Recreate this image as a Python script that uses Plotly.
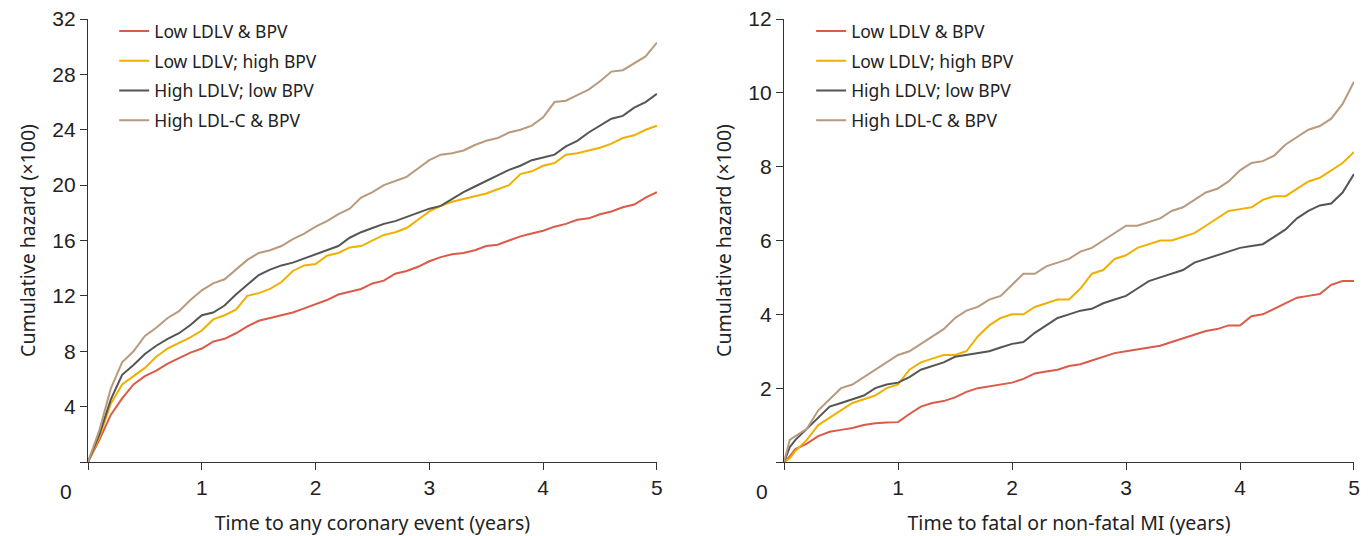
import plotly.graph_objects as go
from plotly.subplots import make_subplots

# ---------------- data ----------------
years = [0.0, 0.05, 0.1, 0.2, 0.3, 0.4, 0.5, 0.6, 0.7, 0.8, 0.9, 1.0,
         1.1, 1.2, 1.3, 1.4, 1.5, 1.6, 1.7, 1.8, 1.9, 2.0,
         2.1, 2.2, 2.3, 2.4, 2.5, 2.6, 2.7, 2.8, 2.9, 3.0,
         3.1, 3.2, 3.3, 3.4, 3.5, 3.6, 3.7, 3.8, 3.9, 4.0,
         4.1, 4.2, 4.3, 4.4, 4.5, 4.6, 4.7, 4.8, 4.9, 5.0]

series_names = ["Low LDLV & BPV", "Low LDLV; high BPV",
                "High LDLV; low BPV", "High LDL-C & BPV"]

# Left panel: any coronary event
coronary_low_low = [0, 0.8, 1.6, 3.4, 4.6, 5.6, 6.2, 6.6, 7.1, 7.5, 7.9, 8.2,
                    8.7, 8.9, 9.3, 9.8, 10.2, 10.4, 10.6, 10.8, 11.1, 11.4,
                    11.7, 12.1, 12.3, 12.5, 12.9, 13.1, 13.6, 13.8, 14.1, 14.5,
                    14.8, 15.0, 15.1, 15.3, 15.6, 15.7, 16.0, 16.3, 16.5, 16.7,
                    17.0, 17.2, 17.5, 17.6, 17.9, 18.1, 18.4, 18.6, 19.1, 19.5]
coronary_low_high = [0, 0.9, 1.8, 4.2, 5.6, 6.2, 6.8, 7.6, 8.2, 8.6, 9.0, 9.5,
                     10.3, 10.6, 11.0, 12.0, 12.2, 12.5, 13.0, 13.8, 14.2, 14.3,
                     14.9, 15.1, 15.5, 15.6, 16.0, 16.4, 16.6, 16.9, 17.5, 18.1,
                     18.5, 18.8, 19.0, 19.2, 19.4, 19.7, 20.0, 20.8, 21.0, 21.4,
                     21.6, 22.2, 22.3, 22.5, 22.7, 23.0, 23.4, 23.6, 24.0, 24.3]
coronary_high_low = [0, 1.0, 2.0, 4.5, 6.3, 7.0, 7.8, 8.4, 8.9, 9.3, 9.9, 10.6,
                     10.8, 11.3, 12.1, 12.8, 13.5, 13.9, 14.2, 14.4, 14.7, 15.0,
                     15.3, 15.6, 16.2, 16.6, 16.9, 17.2, 17.4, 17.7, 18.0, 18.3,
                     18.5, 19.0, 19.5, 19.9, 20.3, 20.7, 21.1, 21.4, 21.8, 22.0,
                     22.2, 22.8, 23.2, 23.8, 24.3, 24.8, 25.0, 25.6, 26.0, 26.6]
coronary_high_high = [0, 1.2, 2.3, 5.3, 7.2, 8.0, 9.1, 9.7, 10.4, 10.9, 11.7, 12.4,
                      12.9, 13.2, 13.9, 14.6, 15.1, 15.3, 15.6, 16.1, 16.5, 17.0,
                      17.4, 17.9, 18.3, 19.1, 19.5, 20.0, 20.3, 20.6, 21.2, 21.8,
                      22.2, 22.3, 22.5, 22.9, 23.2, 23.4, 23.8, 24.0, 24.3, 24.9,
                      26.0, 26.1, 26.5, 26.9, 27.5, 28.2, 28.3, 28.8, 29.3, 30.3]

# Right panel: fatal or non-fatal MI
mi_low_low = [0, 0.15, 0.35, 0.5, 0.7, 0.82, 0.87, 0.92, 1.0, 1.05, 1.07, 1.08,
              1.3, 1.5, 1.6, 1.65, 1.75, 1.9, 2.0, 2.05, 2.1, 2.15,
              2.25, 2.4, 2.45, 2.5, 2.6, 2.65, 2.75, 2.85, 2.95, 3.0,
              3.05, 3.1, 3.15, 3.25, 3.35, 3.45, 3.55, 3.6, 3.7, 3.7,
              3.95, 4.0, 4.15, 4.3, 4.45, 4.5, 4.55, 4.8, 4.9, 4.9]
mi_low_high = [0, 0.1, 0.3, 0.6, 1.0, 1.2, 1.4, 1.6, 1.7, 1.8, 2.0, 2.1,
               2.5, 2.7, 2.8, 2.9, 2.9, 3.0, 3.4, 3.7, 3.9, 4.0,
               4.0, 4.2, 4.3, 4.4, 4.4, 4.7, 5.1, 5.2, 5.5, 5.6,
               5.8, 5.9, 6.0, 6.0, 6.1, 6.2, 6.4, 6.6, 6.8, 6.85,
               6.9, 7.1, 7.2, 7.2, 7.4, 7.6, 7.7, 7.9, 8.1, 8.4]
mi_high_low = [0, 0.4, 0.6, 0.9, 1.2, 1.5, 1.6, 1.7, 1.8, 2.0, 2.1, 2.15,
               2.3, 2.5, 2.6, 2.7, 2.85, 2.9, 2.95, 3.0, 3.1, 3.2,
               3.25, 3.5, 3.7, 3.9, 4.0, 4.1, 4.15, 4.3, 4.4, 4.5,
               4.7, 4.9, 5.0, 5.1, 5.2, 5.4, 5.5, 5.6, 5.7, 5.8,
               5.85, 5.9, 6.1, 6.3, 6.6, 6.8, 6.95, 7.0, 7.3, 7.8]
mi_high_high = [0, 0.6, 0.7, 0.9, 1.4, 1.7, 2.0, 2.1, 2.3, 2.5, 2.7, 2.9,
                3.0, 3.2, 3.4, 3.6, 3.9, 4.1, 4.2, 4.4, 4.5, 4.8,
                5.1, 5.1, 5.3, 5.4, 5.5, 5.7, 5.8, 6.0, 6.2, 6.4,
                6.4, 6.5, 6.6, 6.8, 6.9, 7.1, 7.3, 7.4, 7.6, 7.9,
                8.1, 8.15, 8.3, 8.6, 8.8, 9.0, 9.1, 9.3, 9.7, 10.3]

x_ticks = [0, 1, 2, 3, 4, 5]
x_ticktext = ["", "1", "2", "3", "4", "5"]
left_y_ticks = [0, 4, 8, 12, 16, 20, 24, 28, 32]
left_y_ticktext = ["", "4", "8", "12", "16", "20", "24", "28", "32"]
right_y_ticks = [0, 2, 4, 6, 8, 10, 12]
right_y_ticktext = ["", "2", "4", "6", "8", "10", "12"]

colors = ["#dc5a48", "#f0b000", "#555555", "#b89a7e"]

left_series = [coronary_low_low, coronary_low_high, coronary_high_low, coronary_high_high]
right_series = [mi_low_low, mi_low_high, mi_high_low, mi_high_high]

# ---------------- figure ----------------
fig = make_subplots(rows=1, cols=2, horizontal_spacing=0.1)

for i, (name, vals) in enumerate(zip(series_names, left_series)):
    fig.add_trace(go.Scatter(x=years, y=vals, mode="lines", name=name,
                             line=dict(color=colors[i], width=2),
                             legend="legend", legendgroup="l%d" % i),
                  row=1, col=1)
for i, (name, vals) in enumerate(zip(series_names, right_series)):
    fig.add_trace(go.Scatter(x=years, y=vals, mode="lines", name=name,
                             line=dict(color=colors[i], width=2),
                             legend="legend2", legendgroup="r%d" % i),
                  row=1, col=2)

tick_font = dict(family="Liberation Sans, Arial, sans-serif", size=21, color="#222222")
axis_common = dict(showline=True, linecolor="#333333", linewidth=1.3,
                   ticks="outside", ticklen=7, tickcolor="#333333", tickwidth=1.3,
                   showgrid=False, zeroline=False, automargin=False,
                   ticklabeloverflow="allow",
                   tickfont=tick_font,
                   title_font=dict(family="Noto Sans, sans-serif", size=19.5, color="#222222"))

fig.update_xaxes(**axis_common, range=[0, 5], tickvals=x_ticks, ticktext=x_ticktext)
fig.update_xaxes(domain=[0, 0.4494], row=1, col=1,
                 title=dict(text="Time to any coronary event (years)", standoff=18))
fig.update_xaxes(domain=[0.5498, 1], row=1, col=2,
                 title=dict(text="Time to fatal or non-fatal MI (years)", standoff=18))
fig.update_yaxes(**axis_common)
fig.update_yaxes(range=[0, 32], tickvals=left_y_ticks, ticktext=left_y_ticktext,
                 title=dict(text="Cumulative hazard (×100)", standoff=11), row=1, col=1)
fig.update_yaxes(range=[0, 12], tickvals=right_y_ticks, ticktext=right_y_ticktext,
                 title=dict(text="Cumulative hazard (×100)", standoff=11), row=1, col=2)

legend_common = dict(bgcolor="rgba(0,0,0,0)", borderwidth=0,
                     font=dict(family="Noto Sans, sans-serif", size=17.5, color="#222222"),
                     tracegroupgap=4, yanchor="top", xanchor="left", y=1.013)
fig.update_layout(
    legend=dict(**legend_common, x=0.0207),
    legend2=dict(**legend_common, x=0.5712),
)

for xref, yref in [("x domain", "y domain"), ("x2 domain", "y2 domain")]:
    fig.add_annotation(text="0", xref=xref, yref=yref, x=-0.038, y=-0.066,
                       showarrow=False, xanchor="center", yanchor="middle",
                       font=tick_font)

fig.update_layout(
    width=1370, height=536,
    margin=dict(l=80, r=24, t=11, b=82, autoexpand=False),
    paper_bgcolor="white", plot_bgcolor="white",
    showlegend=True,
)

fig.write_html("out.html")
